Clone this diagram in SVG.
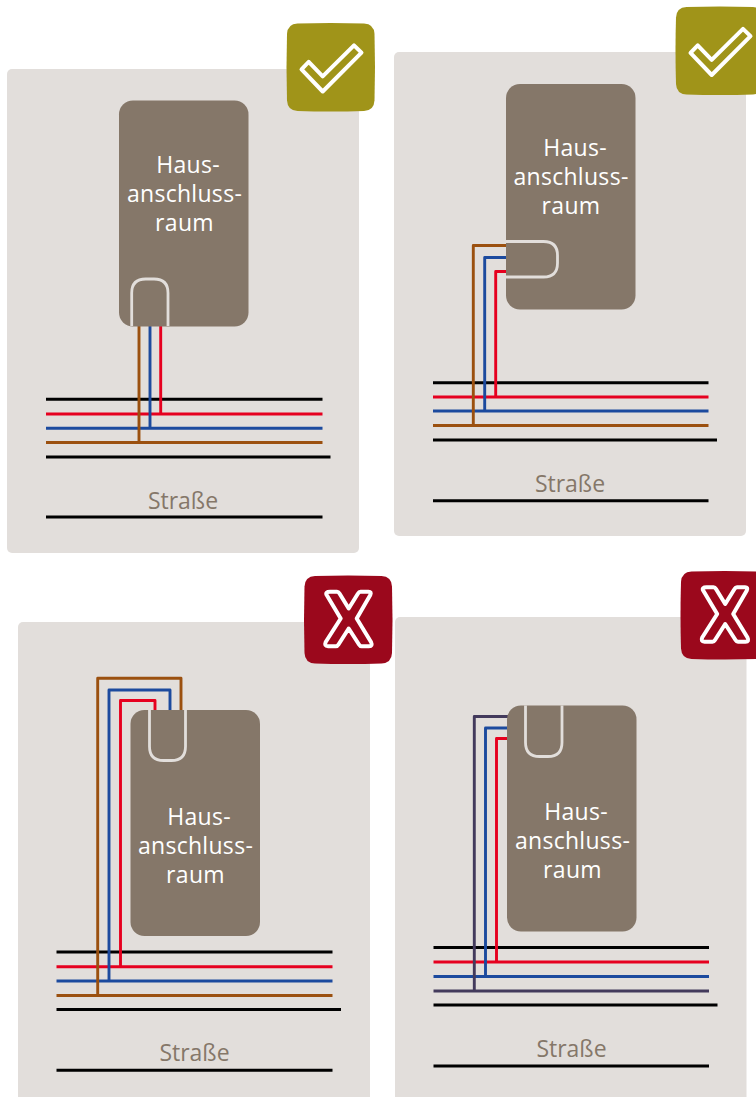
<svg xmlns="http://www.w3.org/2000/svg" width="756" height="1097" viewBox="0 0 756 1097">
<style>
.panel{fill:#e2dedb}
.house{fill:#857769}
.u{fill:none;stroke:#e2dedb;stroke-width:2.8}
.k,.r,.b,.o,.p{fill:none;stroke-width:2.9;stroke-linejoin:round}
.k{stroke:#000}.r{stroke:#e6001f}.b{stroke:#1c4a9e}.o{stroke:#9b500f}.p{stroke:#433a5c}
.t{font-family:"Open Sans","Noto Sans",sans-serif;font-size:23px;letter-spacing:.3px;fill:#fff;text-anchor:middle}
.s{font-family:"Open Sans","Noto Sans",sans-serif;font-size:23px;fill:#857769;text-anchor:middle}
.mark{fill:none;stroke:#fff;stroke-width:4;stroke-linejoin:round}
.ok{fill:#a09419}.no{fill:#9b081c}
</style>
<defs>
<path id="sq" d="M11 .5Q44.200 -.5 77.500 .5Q87.500 1 88 11Q89 44.200 88 77.500Q87.500 87.500 77.500 88Q44.200 89 11 88Q1 87.500 .5 77.500Q-.5 44.200 .5 11Q1 1 11 .5Z"/>
<path id="chk" d="M67.500 22.300L75 29.700L36.200 68.500L15 46.300L22.200 38.800L36.200 53.300Z" class="mark"/>
<path id="xx" d="M26 16.300H33Q34.500 16.300 35.500 18L44.700 33L54 18Q55 16.300 56.500 16.300H64.500Q67.800 16.300 66.300 19.500L52.700 43L67 66.500Q69 70.700 65 70.700H57.500Q56 70.700 55 69L44.700 53L34.500 69Q33.500 70.700 32 70.700H24Q20 70.700 21.700 66.500L36.700 43L22.700 19.500Q21 16.300 26 16.300Z" class="mark"/>
</defs>
<g id="panel-1"><rect class="panel" x="7" y="69" width="352" height="484" rx="5"/></g>
<g id="panel-2"><rect class="panel" x="394" y="52" width="352" height="484" rx="5"/></g>
<g id="panel-3"><rect class="panel" x="18" y="622" width="352" height="490" rx="5"/></g>
<g id="panel-4"><rect class="panel" x="395" y="617" width="351.500" height="490" rx="5"/></g>
<g id="connectors">
<path class="k" d="M46 399.300H322.500M46 457H330.500M46 517H322.500"/>
<path class="r" d="M46 414H322.500M160.700 326V414"/>
<path class="b" d="M46 428.200H322.500M150 326V428"/>
<path class="o" d="M46 442.500H322.500M139 326V444"/>
<path class="k" d="M433 382.700H708.500M433 440H717M433 500.700H708.500"/>
<path class="r" d="M433 397H708.500M506 271.500H495.700V397"/>
<path class="b" d="M433 411H708.500M506 257.500H484.700V411"/>
<path class="o" d="M433 425.500H708.500M506 245.500H473.300V427"/>
<path class="k" d="M56.500 952H332.500M56.500 1009.500H341M56.500 1070.300H332.500"/>
<path class="r" d="M56.500 966.700H332.500M155 711V700.500H120.500V966.700"/>
<path class="b" d="M56.500 981H332.500M170 711V690H109V981"/>
<path class="o" d="M56.500 995.500H332.500M181 711V678.300H97.700V997"/>
<path class="k" d="M433.500 947.500H709M433.500 1005H717.500M433.500 1066H709"/>
<path class="r" d="M433.500 962H709M508 738.500H496.500V962"/>
<path class="b" d="M433.500 976.500H709M508 728H485.500V976.500"/>
<path class="p" d="M433.500 991H709M508 716.500H474.300V992"/>
</g>
<g id="house-1"><rect class="house" x="119" y="100.500" width="129.500" height="226" rx="14"/>
<path class="u" d="M131.700 326V293Q131.700 279 145.700 279H154Q168 279 168 293V326"/>
<text class="t"><tspan x="188" y="173">Haus-</tspan><tspan x="184.500" y="202">anschluss-</tspan><tspan x="184.500" y="231">raum</tspan></text></g>
<g id="house-2"><rect class="house" x="506" y="84" width="129.500" height="225.500" rx="14"/>
<path class="u" d="M506 241.500H543.500Q557.500 241.500 557.500 255.500V263Q557.500 277 543.500 277H506"/>
<text class="t"><tspan x="575" y="156">Haus-</tspan><tspan x="571" y="185">anschluss-</tspan><tspan x="571" y="214">raum</tspan></text></g>
<g id="house-3"><rect class="house" x="130.500" y="710" width="129.500" height="226" rx="14"/>
<path class="u" d="M149.500 710V746.500Q149.500 760.500 163.500 760.500H171.500Q185.500 760.500 185.500 746.500V710"/>
<text class="t"><tspan x="199" y="825">Haus-</tspan><tspan x="195.500" y="854">anschluss-</tspan><tspan x="195.500" y="883">raum</tspan></text></g>
<g id="house-4"><rect class="house" x="507" y="705.500" width="129.500" height="226" rx="14"/>
<path class="u" d="M525.500 705.500V742.500Q525.500 756.500 539.500 756.500H548Q562 756.500 562 742.500V705.500"/>
<text class="t"><tspan x="576" y="820">Haus-</tspan><tspan x="572.500" y="849">anschluss-</tspan><tspan x="572.500" y="878">raum</tspan></text></g>
<g id="label-1"><text class="s" x="183" y="508.500">Straße</text></g>
<g id="label-2"><text class="s" x="570" y="491.500">Straße</text></g>
<g id="label-3"><text class="s" x="194.500" y="1060.500">Straße</text></g>
<g id="label-4"><text class="s" x="571.500" y="1056.500">Straße</text></g>
<g id="badge-1" transform="translate(286.500 23)"><use href="#sq" class="ok"/><use href="#chk"/></g>
<g id="badge-2" transform="translate(675.500 6.500)"><use href="#sq" class="ok"/><use href="#chk"/></g>
<g id="badge-3" transform="translate(304 575.500)"><use href="#sq" class="no"/><use href="#xx"/></g>
<g id="badge-4" transform="translate(680.500 571)"><use href="#sq" class="no"/><use href="#xx"/></g>
</svg>
